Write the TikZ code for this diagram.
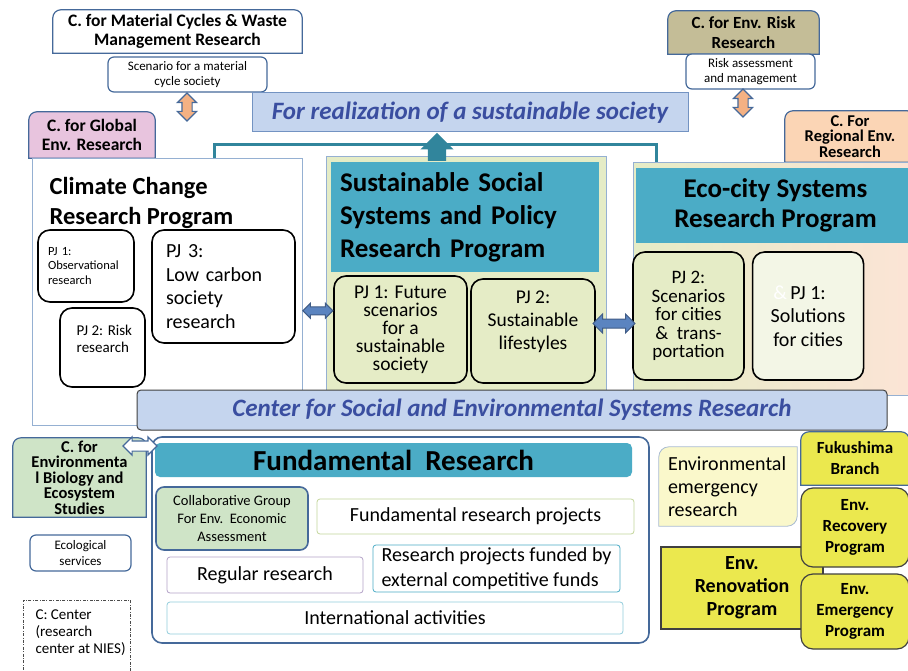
\documentclass[tikz,border=0pt]{standalone}
\usepackage{fontspec}
\setmainfont{Carlito}
\usetikzlibrary{positioning,calc,shapes.arrows,backgrounds}

\definecolor{cborder}{HTML}{45699A}
\definecolor{framecol}{HTML}{95B0D2}
\definecolor{hdrteal}{HTML}{4BACC6}
\definecolor{arrteal}{HTML}{31859C}
\definecolor{skyfill}{HTML}{C5D5EE}
\definecolor{bannerline}{HTML}{7393C2}
\definecolor{bardark}{HTML}{404040}
\definecolor{titleblue}{HTML}{3A4EA0}
\definecolor{pinkfill}{HTML}{E8C4DE}
\definecolor{khakifill}{HTML}{C4BD97}
\definecolor{peachfill}{HTML}{FBD5B5}
\definecolor{greenfill}{HTML}{CFE4C7}
\definecolor{progfill}{HTML}{E5ECC6}
\definecolor{ecoright}{HTML}{FCE4D6}
\definecolor{ecopale}{HTML}{F3F6E6}
\definecolor{orangefill}{HTML}{F4B183}
\definecolor{arrblue}{HTML}{5B84C0}
\definecolor{envyellow}{HTML}{EBE84E}
\definecolor{paleyellow}{HTML}{FAF8CB}
\definecolor{emresline}{HTML}{A9BBD2}
\definecolor{fpcol}{HTML}{C3D69B}
\definecolor{regcol}{HTML}{B3A2C7}
\definecolor{extcol}{HTML}{4BACC6}
\definecolor{intcol}{HTML}{92CDDC}

\newcommand{\fsz}[2]{\fontsize{#1}{#2}\selectfont}
% box with rounded top corners behind a named node
\newcommand{\topround}[2]{%
  \filldraw[fill=#2, draw=cborder, line width=1.2pt]
    (#1.south west) -- ($(#1.north west)+(0,8)$)
    arc[start angle=180, end angle=270, radius=8]
    -- ($(#1.north east)+(-8,0)$)
    arc[start angle=270, end angle=360, radius=8]
    -- (#1.south east) -- cycle;}
% box with rounded top-left and bottom-right corners
\newcommand{\diaground}[3]{%
  \filldraw[fill=#2, draw=#3, line width=0.8pt]
    ($(#1.north west)+(0,10)$) arc[start angle=180, end angle=270, radius=10]
    -- (#1.north east) -- ($(#1.south east)+(0,-10)$)
    arc[start angle=0, end angle=90, radius=10]
    -- (#1.south west) -- cycle;}

\tikzset{
  base/.style={inner sep=0pt, align=center},
  ctext/.style={base, font=\bfseries\fsz{17}{20}},
  cbox/.style={base, draw=cborder, line width=1.2pt, fill=white, rounded corners=6pt, font=\fsz{13}{15}},
  pjbox/.style={base, draw=black, line width=1.6pt, rounded corners=12pt},
  progbox/.style={draw=framecol, line width=1pt},
  headbox/.style={base, fill=hdrteal},
  frame/.style={draw=framecol, line width=0.6pt, double=white, double distance=1.2pt},
  banner/.style={base, fill=skyfill, text=titleblue, font=\bfseries\itshape\fsz{25}{28}},
  fundbox/.style={base, line width=0.8pt, rounded corners=3pt, font=\fsz{20}{25}},
  ybox/.style={base, fill=envyellow, draw=bardark, line width=1.2pt, font=\bfseries\fsz{17}{21}},
  vdarr/.style={double arrow, shape border rotate=90, fill=orangefill, draw=cborder,
    line width=1.2pt, inner sep=4.5pt, double arrow head extend=4.5pt, minimum height=28},
  hdarr/.style={double arrow, fill=arrblue, draw=arrblue!70!black, line width=1pt},
  upbig/.style={single arrow, shape border rotate=90, fill=arrteal, inner sep=9pt,
    single arrow head extend=7.5pt, minimum height=28},
  tealline/.style={draw=arrteal, line width=3pt},
}

\begin{document}
\begin{tikzpicture}[x=1pt, y=-1pt, font=\fsz{13}{15}]
\useasboundingbox (0,0) rectangle (908,671);

\begin{scope}[on background layer]
  \draw[frame] (137,107) rectangle (826,668);
  \draw[frame] (655,462) rectangle (826,668);
\end{scope}

% centres at the top
\node[ctext, font=\bfseries\fsz{17.5}{19}, minimum width=249, minimum height=43] (matcyc) at (177.5,31.5) {C. for Material Cycles \& Waste\\Management Research};
\node[cbox, minimum width=159, minimum height=35] (scen) at (187.5,74.5) {Scenario for a material\\cycle society};
\node[vdarr] (arrmat) at (187,107) {};

\node[banner, draw=bannerline, line width=1pt, minimum width=436, minimum height=39] (realize) at (470,112.5) {For realization of a sustainable society};

\node[ctext, minimum width=151, minimum height=43] (riskc) at (743.5,32.5) {C. for Env. Risk\\Research};
\node[cbox, minimum width=129, minimum height=35] (riskam) at (750.5,71.5) {Risk assessment\\and management};
\node[vdarr] (arrrisk) at (743,103) {};

\node[ctext, font=\bfseries\fsz{17.5}{19}, minimum width=126, minimum height=46] (globc) at (92,135) {C. for Global\\Env. Research};
\node[ctext, font=\bfseries\fsz{16.5}{15.5}, minimum width=130, minimum height=51] (regc) at (850,136.5) {C. For\\Regional Env.\\Research};

% climate change program
\node[progbox, fill=white, minimum width=270, minimum height=266] (clim) at (167,292) {};
\node[base, anchor=north west, align=left, font=\bfseries\fsz{24.5}{29.5}] (climt) at ($(clim.north west)+(18,19)$) {Climate Change\\Research Program};
\node[pjbox, minimum width=96, minimum height=72, text width=76, align=left, font=\fsz{12.5}{14.5}] (cpj1) at (86,266) {PJ 1:\\Observational\\research};
\node[pjbox, minimum width=85, minimum height=79,
  label={[anchor=north west, xshift=14pt, yshift=-14pt, align=left, font=\fsz{15}{17.5}]north west:PJ 2: Risk\\research}] (cpj2) at (102.5,347.5) {};
\node[pjbox, minimum width=143, minimum height=113, text width=115, align=left, font=\fsz{20}{23.5}] (cpj3) at (223.5,286.5) {PJ 3:\\Low carbon\\society\\research};

% sustainable social systems program
\node[progbox, fill=progfill, minimum width=280, minimum height=238] (mid) at (466,276) {};
\node[headbox, minimum width=268, minimum height=110, text width=250, align=left, font=\bfseries\fsz{27}{33}] (mhead) at (465,217) {Sustainable Social\\Systems and Policy\\Research Program};
\node[pjbox, minimum width=133, minimum height=107, font=\fsz{19.5}{18}] (mpj1) at (400.5,329.5) {PJ 1: Future\\scenarios\\for a\\sustainable\\society};
\node[pjbox, minimum width=124, minimum height=104,
  label={[anchor=north, yshift=-9pt, align=center, font=\fsz{19.5}{23}]north:PJ 2:\\Sustainable\\lifestyles}] (mpj2) at (533,331) {};

% eco-city program
\node[progbox, left color=progfill, right color=ecoright, minimum width=282, minimum height=232] (eco) at (774,279) {};
\node[headbox, minimum width=279, minimum height=75, font=\bfseries\fsz{27}{30}] (ehead) at (775.5,205.5) {Eco-city Systems\\Research Program};
\node[pjbox, fill=progfill, minimum width=111, minimum height=128, font=\fsz{19}{18.5}] (epj2) at (688.5,316) {PJ 2:\\Scenarios\\for cities\\\&~~trans-\\portation};
\node[pjbox, fill=ecopale, minimum width=111, minimum height=128, font=\fsz{20}{23.3}, right=7 of epj2] (epj1) {\llap{\textcolor{white}{\&}\,}PJ 1:\\Solutions\\for cities};

\node[hdarr, inner sep=3.5pt, double arrow head extend=3.5pt, minimum height=30] (arrl) at ($(clim.east)!0.5!(mpj1.west)$) {};
\node[hdarr, inner sep=4pt, double arrow head extend=5pt, minimum height=42] (arrr) at ($(mpj2.east)!0.5!(epj2.west)$) {};

\draw[tealline] ($(clim.north west)+(183,0)$) |- ($(eco.north west)+(24,-18)$) -- ($(eco.north west)+(24,0)$);
\node[upbig, anchor=tip] (arrup) at ($(realize.south)+(-33,0)$) {};

\node[banner, draw=bardark, line width=1pt, rounded corners=4pt, minimum width=750, minimum height=40] (csesr) at (512,410) {Center for Social and Environmental Systems Research};

% left column
\node[ctext, font=\bfseries\fsz{16.5}{15.5}, minimum width=133, minimum height=79] (bio) at (79.5,477.5) {C. for\\Environmenta\\l Biology and\\Ecosystem\\Studies};
\node[cbox, minimum width=101, minimum height=36, font=\fsz{13}{15.5}] (ecoserv) at (80.5,553) {Ecological\\services};
\node[draw=black!70, line width=0.6pt, dash pattern=on 3pt off 1.5pt on 0.8pt off 1.5pt,
  minimum width=107, minimum height=100, anchor=north west,
  label={[anchor=north west, xshift=9pt, yshift=-6pt, align=left, font=\fsz{15}{17}]north west:C: Center\\(research\\center at NIES)}] (legend) at (23,600) {};

% fundamental research
\node[draw=cborder, line width=1.6pt, rounded corners=10pt, fill=white, minimum width=497, minimum height=206] (fund) at (400.5,540) {};
\node[headbox, rounded corners=5pt, minimum width=477, minimum height=34, font=\bfseries\fsz{29}{30}] (fhead) at (393.5,460) {Fundamental~~Research};
\node[base, fill=greenfill, draw=cborder, line width=1.6pt, rounded corners=8pt, minimum width=152, minimum height=63, font=\fsz{14.5}{18}] (collab) at (232,518.5) {Collaborative Group\\For Env.~~Economic\\Assessment};
\node[fundbox, draw=fpcol, minimum width=317, minimum height=35] (fproj) at (475.5,516.5) {Fundamental research projects};
\node[fundbox, draw=regcol, minimum width=196, minimum height=36] (regular) at (265,575) {Regular research};
\node[fundbox, draw=extcol, minimum width=247, minimum height=47, align=left] (extfund) at (496.5,568.5) {Research projects funded by\\external competitive funds};
\node[fundbox, draw=intcol, minimum width=456, minimum height=32] (intl) at (395,618) {International activities};
\node[hdarr, fill=white, draw=cborder, line width=1.2pt, inner sep=4.5pt, double arrow head extend=4pt, minimum height=34] (arrbio) at (140,446) {};

% emergency research
\node[base, align=left, text width=120, minimum width=138, minimum height=79, font=\fsz{20}{23.3}] (emres) at (728,486.5) {Environmental\\emergency\\research};
\node[ybox, font=\bfseries\fsz{20}{23}, minimum width=162, minimum height=82] (renov) at (742,588) {Env.\\Renovation\\Program};
\node[ctext, font=\bfseries\fsz{17}{21}, minimum width=108, minimum height=53] (fuku) at (855,458.5) {Fukushima\\Branch};
\node[ybox, rounded corners=12pt, minimum width=108, minimum height=79] (recov) at (855,527.5) {Env.\\Recovery\\Program};
\node[ybox, rounded corners=12pt, minimum width=108, minimum height=75] (emerg) at (855,611.5) {Env.\\Emergency\\Program};

\begin{scope}[on background layer]
  \topround{matcyc}{white}
  \topround{riskc}{khakifill}
  \topround{globc}{pinkfill}
  \topround{regc}{peachfill}
  \topround{bio}{greenfill}
  \topround{fuku}{envyellow}
  \diaground{emres}{paleyellow}{emresline}
\end{scope}
\end{tikzpicture}
\end{document}
